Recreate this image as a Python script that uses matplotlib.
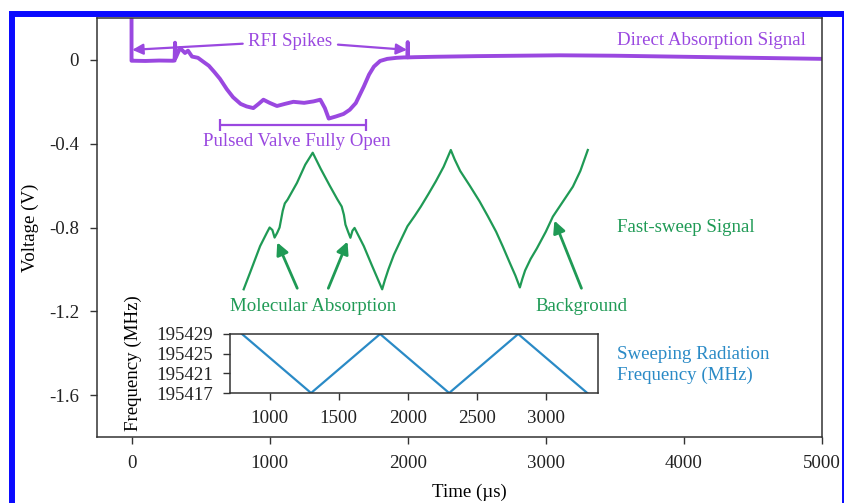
import numpy as np
import matplotlib
matplotlib.use('Agg')
import matplotlib.pyplot as plt
from matplotlib.patches import Rectangle

# direct absorption signal (purple)
t_direct = [0, 0, 15, 100, 200, 300, 312, 315, 320, 351, 387, 409, 438, 481, 518,
            560, 600, 640, 690, 735, 790, 833, 882, 920, 955, 1000, 1053, 1110, 1172,
            1250, 1318, 1367, 1400, 1428, 1480, 1535, 1580, 1624, 1682, 1720, 1755,
            1800, 1852, 1920, 1973, 1997, 2000, 2003, 2050, 2200, 2500, 2800, 3100,
            3500, 4000, 4500, 5000]
v_direct = [0.3, -0.004, -0.004, -0.005, -0.003, -0.004, -0.003, 0.082, 0.01, 0.057,
            0.033, 0.044, 0.016, 0.01, -0.008, -0.028, -0.058, -0.09, -0.14, -0.178,
            -0.21, -0.222, -0.23, -0.21, -0.19, -0.205, -0.22, -0.21, -0.2, -0.205,
            -0.198, -0.19, -0.23, -0.28, -0.27, -0.258, -0.238, -0.206, -0.127, -0.07,
            -0.032, -0.005, 0.005, 0.01, 0.012, 0.012, 0.085, 0.012, 0.013, 0.015,
            0.018, 0.02, 0.022, 0.02, 0.015, 0.01, 0.005]

# fast-sweep signal (green)
t_sweep = [812, 858, 931, 980, 1000, 1020, 1036, 1055, 1072, 1095, 1110, 1130, 1198,
           1258, 1312, 1370, 1435, 1490, 1522, 1538, 1549, 1568, 1585, 1600, 1615,
           1682, 1740, 1815, 1835, 1860, 1900, 1950, 1998, 2050, 2095, 2150, 2204,
           2260, 2312, 2340, 2380, 2449, 2520, 2580, 2640, 2688, 2740, 2780, 2812,
           2830, 2850, 2890, 2935, 3000, 3051, 3120, 3196, 3250, 3304]
v_sweep = [-1.095, -1.016, -0.889, -0.825, -0.80, -0.812, -0.848, -0.825, -0.80,
           -0.72, -0.685, -0.667, -0.587, -0.50, -0.443, -0.52, -0.60, -0.665, -0.70,
           -0.74, -0.786, -0.82, -0.849, -0.815, -0.802, -0.889, -0.98, -1.095, -1.05,
           -1.0, -0.93, -0.86, -0.794, -0.745, -0.70, -0.64, -0.579, -0.51, -0.43,
           -0.475, -0.53, -0.60, -0.675, -0.746, -0.82, -0.89, -0.97, -1.03, -1.086,
           -1.045, -1.005, -0.95, -0.9, -0.82, -0.748, -0.68, -0.605, -0.53, -0.43]

# sweeping radiation frequency (blue, inset)
t_freq = [800, 1300, 1800, 2300, 2800, 3300]
f_freq = [195429, 195417, 195429, 195417, 195429, 195417]

xticks_main = [0, 1000, 2000, 3000, 4000, 5000]
yticks_main = [0, -0.4, -0.8, -1.2, -1.6]
ytick_labels_main = ['0', '-0.4', '-0.8', '-1.2', '-1.6']
xticks_inset = [1000, 1500, 2000, 2500, 3000]
yticks_inset = [195429, 195425, 195421, 195417]

purple = '#9a48e0'
green = '#1f9a55'
blue = '#2a8ac6'
spine_c = '#333333'

if __name__ == '__main__':
    plt.rcParams['font.family'] = ['Liberation Serif', 'DejaVu Serif']
    plt.rcParams['font.size'] = 13.6

    fig = plt.figure(figsize=(8.45, 5.03), dpi=100)
    ax = fig.add_axes([0.1148, 0.1312, 0.858, 0.833])

    ax.plot(t_direct, v_direct, color=purple, lw=2.8, solid_joinstyle='round')
    ax.plot(t_sweep, v_sweep, color=green, lw=1.6)

    ax.set_xlim(-250, 5000)
    ax.set_ylim(-1.8, 0.2)
    ax.set_xticks(xticks_main)
    ax.set_yticks(yticks_main)
    ax.set_yticklabels(ytick_labels_main)
    ax.tick_params(direction='out', length=5, width=1, color=spine_c, pad=8, labelcolor='#222222')
    for s in ax.spines.values():
        s.set_color(spine_c)
        s.set_linewidth(1.1)
    ax.set_xlabel('Time (\u00b5s)')
    ax.set_ylabel('Voltage (V)')
    ax.xaxis.set_label_coords(0.514, -0.112)
    ax.yaxis.set_label_coords(-0.08, 0.5)

    # annotations: direct absorption
    arr_p = dict(arrowstyle='-|>', color=purple, lw=1.6, mutation_scale=16, shrinkA=2, shrinkB=0)
    ax.annotate('RFI Spikes', xy=(5, 0.048), xytext=(1150, 0.09), color=purple,
                ha='center', va='center', arrowprops=arr_p)
    ax.annotate('RFI Spikes', xy=(1995, 0.048), xytext=(1150, 0.09), color='none',
                ha='center', va='center', arrowprops=arr_p)
    ax.errorbar([1170], [-0.31], xerr=[530], color=purple, lw=1.6, capsize=4.5, capthick=1.6)
    ax.text(1200, -0.39, 'Pulsed Valve Fully Open', color=purple, ha='center', va='center')
    ax.text(4880, 0.095, 'Direct Absorption Signal', color=purple, ha='right', va='center')

    # annotations: fast sweep
    arr_g = dict(arrowstyle='-|>', color=green, lw=2, mutation_scale=18, shrinkA=0, shrinkB=0)
    ax.annotate('', xy=(1055, -0.871), xytext=(1200, -1.09), arrowprops=arr_g)
    ax.annotate('', xy=(1564, -0.867), xytext=(1425, -1.09), arrowprops=arr_g)
    ax.annotate('', xy=(3062, -0.767), xytext=(3258, -1.09), arrowprops=arr_g)
    ax.text(1313, -1.176, 'Molecular Absorption', color=green, ha='center', va='center')
    ax.text(3258, -1.176, 'Background', color=green, ha='center', va='center')
    ax.text(3513, -0.80, 'Fast-sweep Signal', color=green, ha='left', va='center')
    ax.text(3513, -1.457, 'Sweeping Radiation\nFrequency (MHz)', color=blue,
            ha='left', va='center', linespacing=1.3)

    # inset with the sweep frequency
    axi = fig.add_axes([230 / 845, 1 - 393 / 503, 368 / 845, 59 / 503])
    axi.plot(t_freq, f_freq, color=blue, lw=1.6)
    axi.set_xlim(713, 3378)
    axi.set_ylim(195417, 195429)
    axi.set_xticks(xticks_inset)
    axi.set_yticks(yticks_inset)
    axi.set_yticklabels([str(v) for v in yticks_inset])
    axi.tick_params(direction='out', length=5, width=1, color=spine_c, pad=7, labelcolor='#222222')
    axi.set_ylabel('Frequency (MHz)')
    axi.yaxis.set_label_coords(-0.239, 0.5)
    for s in axi.spines.values():
        s.set_color(spine_c)
        s.set_linewidth(1.1)
    axi.patch.set_alpha(0)

    # blue frame around the picture
    fig.add_artist(Rectangle((12 / 845, -0.1), (845 - 12) / 845, 1.1 - 13.7 / 503,
                             transform=fig.transFigure, fill=False, edgecolor='#0a0aff',
                             lw=4.3, clip_on=False))

    fig.savefig('out.png', dpi=100)
